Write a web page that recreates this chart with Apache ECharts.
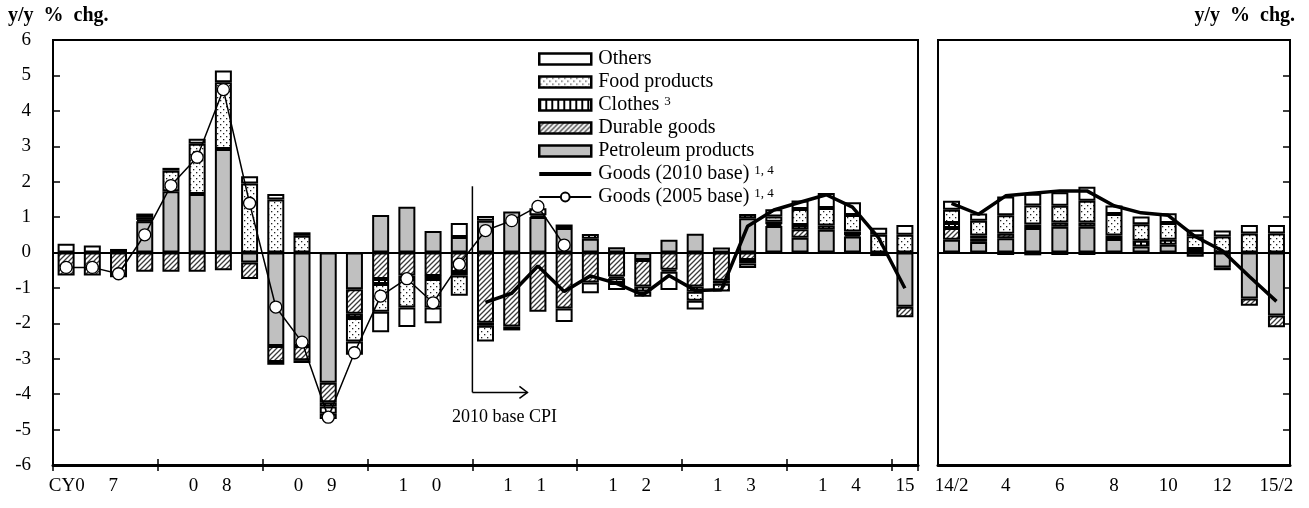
<!DOCTYPE html>
<html><head><meta charset="utf-8">
<script src="https://cdn.jsdelivr.net/npm/echarts@6/dist/echarts.min.js"></script>
<style>html,body{margin:0;padding:0;background:#fff;}#c{width:1309px;height:508px;}</style>
</head><body><div id="c"></div>
<script>
// ---------- categories ----------
const quarters = ['07Q1','07Q2','07Q3','07Q4','08Q1','08Q2','08Q3','08Q4','09Q1','09Q2','09Q3','09Q4',
  '10Q1','10Q2','10Q3','10Q4','11Q1','11Q2','11Q3','11Q4','12Q1','12Q2','12Q3','12Q4',
  '13Q1','13Q2','13Q3','13Q4','14Q1','14Q2','14Q3','14Q4','15Q1'];
const yearLabels = ['CY0\u2003 7','0\u2003 8','0\u2003 9','1\u2003 0','1\u2003 1','1\u2003 2','1\u2003 3','1\u2003 4','15'];
const months = ['14/2','14/3','14/4','14/5','14/6','14/7','14/8','14/9','14/10','14/11','14/12','15/1','15/2'];
const monthLabels = ['14/2','','4','','6','','8','','10','','12','','15/2'];

// ---------- quarterly contributions (left panel) ----------
const qPetroleum = [0,0,0,0.88,1.73,1.65,2.92,-0.28,-2.64,-2.64,-3.68,-1.04,1.06,1.29,0.61,0.44,0.9,1.16,1.0,0.69,0.39,0.15,-0.21,0.36,0.53,0,0.97,0.75,0.42,0.64,0.45,-0.1,-1.53];
const qDurable   = [-0.65,-0.65,-0.7,-0.54,-0.54,-0.54,-0.5,-0.47,-0.45,-0.4,-0.55,-0.69,-0.75,-0.65,-0.66,-0.55,-1.98,-2.09,-1.67,-1.58,-0.85,-0.68,-0.75,-0.49,-0.96,-0.8,-0.21,0.05,0.24,0,0.04,0,-0.3];
const qClothes   = [0,0,0.1,0.04,0,0,0,0,-0.08,-0.08,-0.12,-0.12,-0.14,-0.1,-0.09,-0.1,-0.09,-0.11,0.05,0.1,0.13,-0.05,-0.14,-0.05,-0.15,-0.08,0.12,0.07,0.12,0.12,0.1,0,0];
const qFood      = [0,0,0,0.08,0.58,1.42,1.89,1.95,1.5,0.47,-0.2,-0.66,-0.78,-0.8,-0.8,-0.57,-0.44,0,0,0,0,-0.13,-0.15,0,-0.25,-0.22,-0.1,0.15,0.45,0.5,0.47,0.5,0.5];
const qOthers    = [0.25,0.2,0,0.1,0.08,0.14,0.33,0.2,0.15,0.1,-0.15,-0.38,-0.58,-0.55,-0.45,0.39,0.13,0,0.2,-0.38,-0.3,-0.2,0,-0.52,-0.25,0.14,-0.13,0.2,0.24,0.42,0.36,0.2,0.28];
const qGoods2010 = [null,null,null,null,null,null,null,null,null,null,null,null,null,null,null,null,
  -1.41,-1.15,-0.38,-1.1,-0.66,-0.87,-1.2,-0.65,-1.07,-1.05,0.74,1.2,1.42,1.63,1.28,0.41,-1.01];
const qGoods2005 = [-0.42,-0.42,-0.6,0.5,1.89,2.69,4.6,1.39,-1.54,-2.53,-4.65,-2.83,-1.23,-0.74,-1.42,-0.33,0.62,0.9,1.3,0.21,
  null,null,null,null,null,null,null,null,null,null,null,null,null];

// ---------- monthly contributions (right panel) ----------
const mPetroleum = [0.36,0.3,0.4,0.69,0.73,0.73,0.38,0.17,0.22,-0.12,-0.42,-1.3,-1.78];
const mDurable   = [0.33,0.1,0.13,-0.08,0.12,0.12,0,0,0,0,-0.08,-0.2,-0.33];
const mClothes   = [0.14,0.08,-0.07,0.1,-0.07,-0.07,0.1,0.16,0.14,0.1,0,0,0];
const mFood      = [0.38,0.42,0.52,0.54,0.47,0.61,0.61,0.47,0.47,0.36,0.45,0.54,0.54];
const mOthers    = [0.25,0.2,0.53,0.33,0.38,0.4,0.24,0.22,0.28,0.18,0.17,0.24,0.24];
const mGoods2010 = [1.39,1.08,1.6,1.67,1.74,1.74,1.32,1.12,1.05,0.45,0.05,-0.68,-1.38];

// annotation (in data units)
const annoTop = 1.87, annoBottom = -3.95, annoTextY = -4.65;

const FONT = "'Liberation Serif','Times New Roman',serif";

function pattern(type){
  const c = document.createElement('canvas');
  const ctx = c.getContext('2d');
  if (type === 'hatch'){
    const s = 5; c.width = s; c.height = s;
    ctx.fillStyle = '#fff'; ctx.fillRect(0,0,s,s);
    ctx.strokeStyle = '#3a3a3a'; ctx.lineWidth = 1.3;
    ctx.beginPath();
    ctx.moveTo(-1, s+1); ctx.lineTo(s+1, -1);
    ctx.moveTo(-1, 1); ctx.lineTo(1, -1);
    ctx.moveTo(s-1, s+1); ctx.lineTo(s+1, s-1);
    ctx.stroke();
  } else if (type === 'dots'){
    const s = 6; c.width = s; c.height = s;
    ctx.fillStyle = '#fff'; ctx.fillRect(0,0,s,s);
    ctx.fillStyle = '#222';
    ctx.fillRect(1,1,1.3,1.3); ctx.fillRect(4,4,1.3,1.3);
  } else if (type === 'stripes'){
    const s = 6; c.width = s; c.height = s;
    ctx.fillStyle = '#fff'; ctx.fillRect(0,0,s,s);
    ctx.fillStyle = '#000'; ctx.fillRect(0,0,2,s);
  }
  return { image: c, repeat: 'repeat' };
}
const colHatch = pattern('hatch'), colDots = pattern('dots'), colStripes = pattern('stripes');

const nz = a => a.map(v => (v === 0 || v === null) ? '-' : v);
const nn = a => a.map(v => v === null ? '-' : v);

function bar(name, data, color, xi, yi, stack){
  return { type:'bar', name, data: nz(data), xAxisIndex: xi, yAxisIndex: yi, stack,
    barWidth: 17, itemStyle:{ color, borderColor:'#000', borderWidth:2 },
    emphasis:{disabled:true}, silent:true };
}

const chart = echarts.init(document.getElementById('c'), null, {renderer:'canvas'});

const baseLabel = { fontFamily: FONT, fontSize: 19, color: '#000' };
const titleStyle = { fontFamily: FONT, fontSize: 20, fontWeight: 'bold', color:'#000' };
const barIconStyle = { borderColor:'#000', borderWidth: 2.5 };

const option = {
  animation: false,
  backgroundColor: '#fff',
  title: [
    { text: 'y/y  %  chg.', left: 3, top: 1, textStyle: titleStyle },
    { text: 'y/y  %  chg.', right: 9, top: 1, textStyle: titleStyle }
  ],
  legend: {
    orient: 'vertical', left: 538, top: 49, padding: 0,
    itemWidth: 52, itemHeight: 11, itemGap: 3, symbolKeepAspect: true,
    data: [
      { name:'Others', icon:'rect', itemStyle: barIconStyle },
      { name:'Food products', icon:'rect', itemStyle: barIconStyle },
      { name:'Clothes', icon:'rect', itemStyle: barIconStyle },
      { name:'Durable goods', icon:'rect', itemStyle: barIconStyle },
      { name:'Petroleum products', icon:'rect', itemStyle: barIconStyle },
      { name:'Goods (2010 base)', icon:'path://M0,0H52V4H0Z' },
      { name:'Goods (2005 base)' }
    ],
    formatter: function(name){
      if (name === 'Clothes') return '{t|Clothes }{s|3}';
      if (name.indexOf('Goods') === 0) return '{t|' + name + ' }{s|1, 4}';
      return '{t|' + name + '}';
    },
    textStyle: { fontFamily: FONT, fontSize: 20, color:'#000', padding:[0,0,0,2],
      rich: { t: { fontFamily: FONT, fontSize: 20, color:'#000', lineHeight: 20 },
              s: { fontFamily: FONT, fontSize: 13, color:'#000', verticalAlign:'top', lineHeight: 14 } } },
    selectedMode: false
  },
  grid: [
    { left: 53, top: 40, width: 865, height: 425, show: true, borderColor:'#000', borderWidth: 2, backgroundColor: 'transparent' },
    { left: 938, top: 40, width: 352, height: 425, show: true, borderColor:'#000', borderWidth: 2, backgroundColor: 'transparent' }
  ],
  xAxis: [
    { type:'category', gridIndex:0, data: quarters, position:'bottom',
      axisLine:{ onZero:false, lineStyle:{ color:'#000', width:3 } },
      axisTick:{ show:true, inside:false, length:6, lineStyle:{color:'#000', width:1.5},
        interval: function(i){ return i % 4 === 0; } },
      axisLabel: Object.assign({}, baseLabel, { margin: 12,
        interval: function(i){ return i % 4 === 1 || i === 32; },
        formatter: function(v, i){
          if (i === 32) return yearLabels[8];
          const k = Math.floor(i/4);
          if (k === 0) return '{f|' + yearLabels[0] + '}';
          return '{y|' + yearLabels[k] + '}';
        },
        rich: { y: Object.assign({}, baseLabel, { padding:[0,0,0,26] }),
                f: Object.assign({}, baseLabel, { padding:[0,18,0,0] }) } }),
      splitLine:{show:false} },
    { type:'category', gridIndex:0, data: quarters, position:'bottom',
      axisLine:{ onZero:true, lineStyle:{ color:'#000', width:2 } },
      axisTick:{show:false}, axisLabel:{show:false}, splitLine:{show:false}, z: 5 },
    { type:'category', gridIndex:0, data: quarters, position:'bottom',
      axisLine:{ show:false, onZero:false },
      axisTick:{ show:true, inside:true, length:6, lineStyle:{color:'#000', width:1.5},
        interval: function(i){ return i % 4 === 0; } },
      axisLabel:{show:false}, splitLine:{show:false} },
    { type:'category', gridIndex:1, data: months, position:'bottom',
      axisLine:{ onZero:false, lineStyle:{ color:'#000', width:3 } },
      axisTick:{ show:false },
      axisLabel: Object.assign({}, baseLabel, { margin: 12, interval: 0,
        formatter: function(v, i){ return monthLabels[i]; } }),
      splitLine:{show:false} },
    { type:'category', gridIndex:1, data: months, position:'bottom',
      axisLine:{ onZero:true, lineStyle:{ color:'#000', width:2 } },
      axisTick:{show:false}, axisLabel:{show:false}, splitLine:{show:false}, z: 5 }
  ],
  yAxis: [
    { type:'value', gridIndex:0, min:-6, max:6, interval:1, position:'left',
      axisLine:{ show:true, lineStyle:{color:'#000', width:2} },
      axisTick:{ show:true, inside:true, length:7, lineStyle:{color:'#000', width:1.5} },
      axisLabel: Object.assign({}, baseLabel, { margin: 22 }),
      splitLine:{show:false} },
    { type:'value', gridIndex:1, min:-6, max:6, interval:1, position:'right',
      axisLine:{ show:true, lineStyle:{color:'#000', width:2} },
      axisTick:{ show:true, inside:true, length:7, lineStyle:{color:'#000', width:1.5} },
      axisLabel:{show:false}, splitLine:{show:false} }
  ],
  series: [
    bar('Petroleum products', qPetroleum, '#c0c0c0', 0, 0, 'L'),
    bar('Durable goods', qDurable, colHatch, 0, 0, 'L'),
    bar('Clothes', qClothes, colStripes, 0, 0, 'L'),
    bar('Food products', qFood, colDots, 0, 0, 'L'),
    bar('Others', qOthers, '#ffffff', 0, 0, 'L'),
    bar('Petroleum products', mPetroleum, '#c0c0c0', 3, 1, 'R'),
    bar('Durable goods', mDurable, colHatch, 3, 1, 'R'),
    bar('Clothes', mClothes, colStripes, 3, 1, 'R'),
    bar('Food products', mFood, colDots, 3, 1, 'R'),
    bar('Others', mOthers, '#ffffff', 3, 1, 'R'),
    { type:'line', name:'Goods (2010 base)', data: nn(qGoods2010), xAxisIndex:0, yAxisIndex:0,
      symbol:'none', lineStyle:{ color:'#000', width:3.5 }, itemStyle:{color:'#000'}, z: 6, silent:true },
    { type:'line', name:'Goods (2005 base)', data: nn(qGoods2005), xAxisIndex:0, yAxisIndex:0,
      symbol:'circle', symbolSize:12, showSymbol:true,
      lineStyle:{ color:'#000', width:1.5 }, itemStyle:{ color:'#fff', borderColor:'#000', borderWidth:1.3 }, z: 7, silent:true },
    { type:'line', name:'Goods (2010 base)', data: mGoods2010, xAxisIndex:3, yAxisIndex:1,
      symbol:'none', lineStyle:{ color:'#000', width:3.5 }, itemStyle:{color:'#000'}, z: 6, silent:true }
  ]
};
chart.setOption(option);

// annotation "2010 base CPI" placed through the axes' scales
const px = i => chart.convertToPixel({xAxisIndex:0}, i);
const py = v => chart.convertToPixel({yAxisIndex:0}, v);
const xB = (px(15) + px(16)) / 2;
const xE = px(17) + 0.6 * (px(18) - px(17));
const yT = py(annoTop), yB = py(annoBottom), yTx = py(annoTextY);
chart.setOption({ graphic: [
  { type:'line', shape:{ x1:xB, y1:yT, x2:xB, y2:yB }, style:{ stroke:'#000', lineWidth:1.5 }, z: 10 },
  { type:'line', shape:{ x1:xB, y1:yB, x2:xE, y2:yB }, style:{ stroke:'#000', lineWidth:1.5 }, z: 10 },
  { type:'polyline', shape:{ points:[[xE-8, yB-6],[xE, yB],[xE-8, yB+6]] }, style:{ stroke:'#000', lineWidth:1.5, fill:null }, z: 10 },
  { type:'text', x: xB + 32, y: yTx, style:{ text:'2010 base CPI', fontFamily: FONT, fontSize: 18, fill:'#000', align:'center', verticalAlign:'middle' }, z: 10 }
]});
</script>
</body></html>
